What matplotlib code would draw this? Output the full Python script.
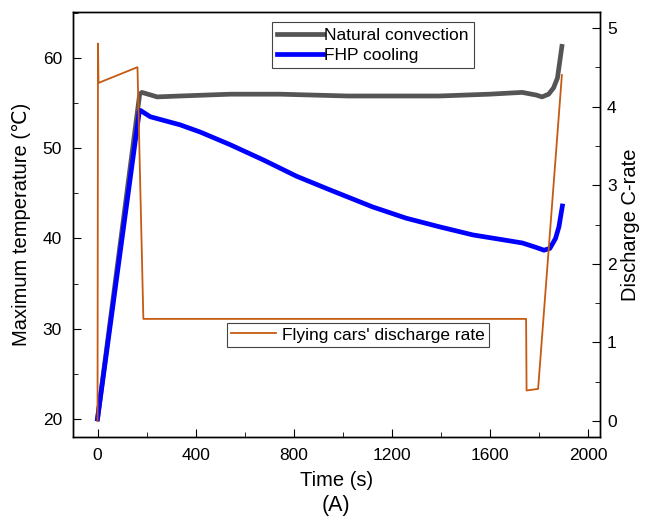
import matplotlib
matplotlib.use("Agg")
import matplotlib.pyplot as plt
from matplotlib.ticker import MultipleLocator

plt.rcParams["font.family"] = ["Liberation Sans", "DejaVu Sans"]

# natural convection (gray)
t_nat = [0, 172, 181, 243, 337, 541, 744, 1020, 1122, 1394, 1598, 1732, 1790, 1813, 1840, 1860, 1876, 1894]
T_nat = [20, 56.0, 56.2, 55.7, 55.8, 56.0, 56.0, 55.8, 55.8, 55.8, 56.0, 56.2, 55.9, 55.7, 56.0, 56.7, 57.8, 61.3]

# FHP cooling (blue)
t_fhp = [0, 170, 175, 215, 337, 419, 541, 677, 812, 947, 1122, 1259, 1394, 1530, 1666, 1733, 1790, 1821, 1845, 1868, 1882, 1896]
T_fhp = [20, 54.0, 54.2, 53.5, 52.6, 51.8, 50.4, 48.7, 46.9, 45.4, 43.5, 42.25, 41.3, 40.4, 39.8, 39.5, 39.0, 38.7, 38.9, 40.0, 41.3, 43.6]

# flying cars' discharge rate (right axis)
t_rate = [0, 2, 4, 163, 187, 1748, 1750, 1797, 1894]
c_rate = [0, 4.8, 4.3, 4.5, 1.3, 1.3, 0.39, 0.41, 4.4]

fig = plt.figure(figsize=(6.46, 5.27), dpi=100)
ax = fig.add_axes([0.113, 0.171, 0.816, 0.806])
ax2 = ax.twinx()

l1, = ax.plot(t_nat, T_nat, color="#555555", lw=3.4, label="Natural convection")
l2, = ax.plot(t_fhp, T_fhp, color="#0000FF", lw=3.4, label="FHP cooling")
l3, = ax2.plot(t_rate, c_rate, color="#C55A11", lw=1.3, label="Flying cars' discharge rate")

ax.set_xlim(-100, 2050)
ax.set_ylim(18, 65.1)
ax2.set_ylim(-0.2, 5.2)

ax.xaxis.set_major_locator(MultipleLocator(400))
ax.xaxis.set_minor_locator(MultipleLocator(200))
ax.yaxis.set_major_locator(MultipleLocator(10))
ax.yaxis.set_minor_locator(MultipleLocator(5))
ax2.yaxis.set_major_locator(MultipleLocator(1))
ax2.yaxis.set_minor_locator(MultipleLocator(0.5))

for a in (ax, ax2):
    a.tick_params(which="both", direction="in", labelsize=12.5, pad=8)
    a.tick_params(which="major", length=6)
    a.tick_params(which="minor", length=3.5)
    for s in a.spines.values():
        s.set_linewidth(1.0)
ax2.tick_params(which="both", pad=5)

ax.set_xlabel("Time (s)", fontsize=14.5, labelpad=6)
ax.set_ylabel("Maximum temperature (\u2103)", fontsize=14.5, labelpad=8)
ax2.set_ylabel("Discharge C-rate", fontsize=14.5, labelpad=3)

leg1 = ax.legend(handles=[l1, l2], loc="upper left", bbox_to_anchor=(0.378, 0.976),
                 borderaxespad=0, fancybox=False, edgecolor="#444444", framealpha=1,
                 fontsize=12.5, handlelength=2.6, handletextpad=0.1, labelspacing=0.3,
                 borderpad=0.3)
leg1.get_frame().set_linewidth(0.8)
leg2 = ax2.legend(handles=[l3], loc="upper left", bbox_to_anchor=(0.292, 0.268),
                  borderaxespad=0, fancybox=False, edgecolor="#444444", framealpha=1,
                  fontsize=12.5, handlelength=2.6, handletextpad=0.3, borderpad=0.25)
leg2.get_frame().set_linewidth(0.8)

fig.text(0.52, 0.04, "(A)", ha="center", va="center", fontsize=15.5)

fig.savefig("out.png", dpi=100)
